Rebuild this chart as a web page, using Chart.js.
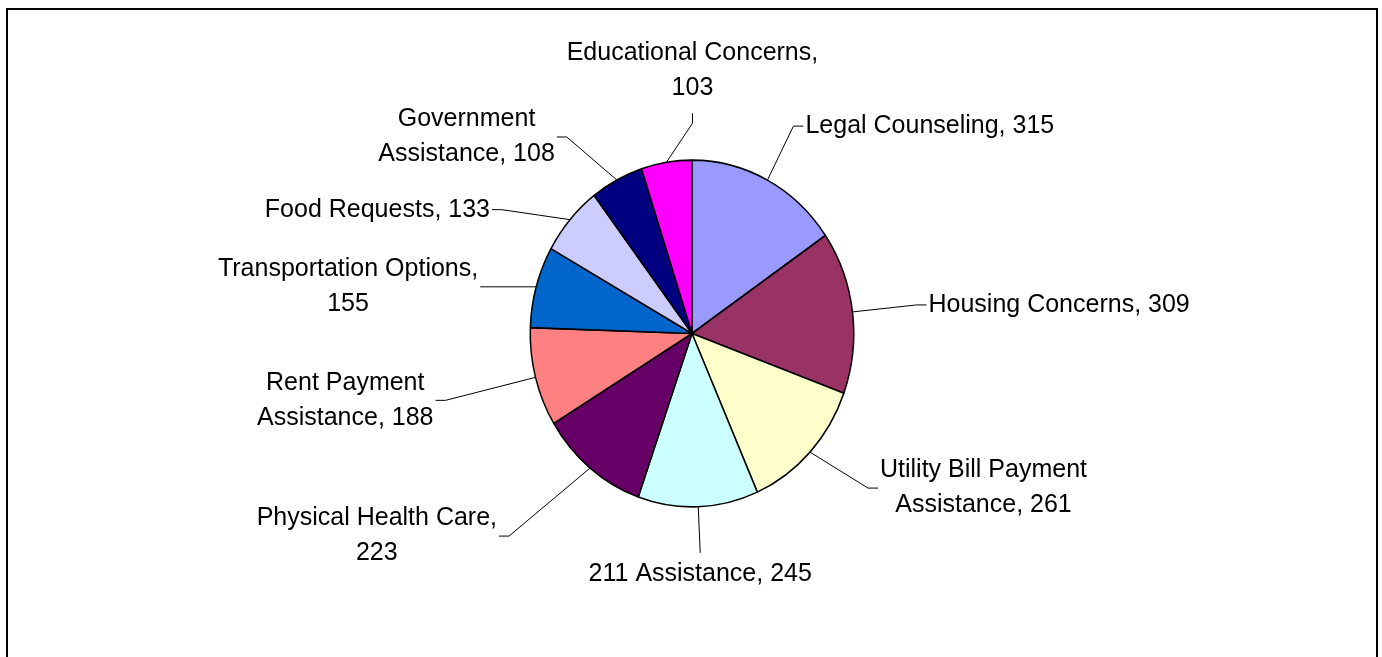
<!DOCTYPE html>
<html>
<head>
<meta charset="utf-8">
<title>Requests by category</title>
<script src="https://cdn.jsdelivr.net/npm/chart.js@4.4.1/dist/chart.umd.min.js"></script>
<style>
    html, body { margin: 0; padding: 0; background: #fff; overflow: hidden; }
    #wrap { width: 1382px; height: 657px; }
</style>
</head>
<body>
<div id="wrap"><canvas id="requestsChart" width="1382" height="657"></canvas></div>
<script>
var categories = ['Legal Counseling', 'Housing Concerns', 'Utility Bill Payment Assistance',
    '211 Assistance', 'Physical Health Care', 'Rent Payment Assistance',
    'Transportation Options', 'Food Requests', 'Government Assistance', 'Educational Concerns'];
var requests = [315, 309, 261, 245, 223, 188, 155, 133, 108, 103];

var sliceColors = ['#9999FF', '#993366', '#FFFFCC', '#CCFFFF', '#660066',
    '#FF8080', '#0066CC', '#CCCCFF', '#000080', '#FF00FF'];
// where each label's leader bends, measured from the middle of its slice's edge (px);
// the original labels were placed by hand, so these are not regular
var labelOffset = [[26, -54], [64, -7], [58, 36], [2, 46], [-81, 68],
    [-90, 23], [-46, 0], [-68, -10], [-50, -43], [26, -39]];

var squash = 1.072;   // the original pie is a bit taller than it is wide
var labelFont = '25px "Liberation Sans", Arial, sans-serif';
var lineHeight = 35;
var wrapWidth = 266;

function wrapText(ctx, text, maxW) {
    var words = text.split(' ');
    var lines = [];
    var cur = '';
    words.forEach(function(w) {
        var test = cur ? cur + ' ' + w : w;
        if (cur && ctx.measureText(test).width > maxW) {
            lines.push(cur);
            cur = w;
        } else {
            cur = test;
        }
    });
    if (cur) lines.push(cur);
    return lines;
}

// black frame round the whole chart (its bottom edge is off the picture)
var frame = {
    id: 'frame',
    beforeDraw: function(chart) {
        var ctx = chart.ctx;
        ctx.save();
        ctx.fillStyle = '#fff';
        ctx.fillRect(0, 0, chart.width, chart.height);
        ctx.strokeStyle = '#000';
        ctx.lineWidth = 2;
        ctx.strokeRect(7, 9, chart.width - 12, chart.height + 20);
        ctx.restore();
    }
};

// stretch the pie a little vertically
var ovalPie = {
    id: 'ovalPie',
    beforeDatasetsDraw: function(chart) {
        var arc = chart.getDatasetMeta(0).data[0];
        var ctx = chart.ctx;
        ctx.save();
        ctx.translate(arc.x, arc.y);
        ctx.scale(1, squash);
        ctx.translate(-arc.x, -arc.y);
    },
    afterDatasetsDraw: function(chart) {
        chart.ctx.restore();
    }
};

// category + value labels outside the pie, with leader lines
var outLabels = {
    id: 'outLabels',
    afterDraw: function(chart) {
        var ctx = chart.ctx;
        var arcs = chart.getDatasetMeta(0).data;
        ctx.save();
        ctx.font = labelFont;
        ctx.fillStyle = '#000';
        ctx.strokeStyle = '#000';
        ctx.lineWidth = 1;
        ctx.textAlign = 'center';
        ctx.textBaseline = 'middle';
        arcs.forEach(function(arc, i) {
            var mid = (arc.startAngle + arc.endAngle) / 2;
            var px = arc.x + Math.cos(mid) * arc.outerRadius;
            var py = arc.y + Math.sin(mid) * arc.outerRadius * squash;
            var kx = px + labelOffset[i][0];
            var ky = py + labelOffset[i][1];

            var lines = wrapText(ctx, categories[i] + ', ' + requests[i], wrapWidth);
            var boxW = 0;
            lines.forEach(function(l) { boxW = Math.max(boxW, ctx.measureText(l).width); });
            var n = lines.length;
            var tx = kx, ty = ky, cx, firstY;
            var c = Math.cos(mid);

            if (Math.abs(c) < 0.25) {
                cx = kx;
                if (Math.sin(mid) < 0) {
                    ty = ky - 10;
                    firstY = ty - 25 - (n - 1) * lineHeight;
                } else {
                    firstY = ty + 21;
                }
            } else if (c > 0) {
                tx = kx + 10;
                cx = tx + 2 + boxW / 2;
                firstY = ky - (n - 1) * lineHeight / 2;
            } else {
                tx = kx - 10;
                cx = tx - 2 - boxW / 2;
                firstY = ky - (n - 1) * lineHeight / 2;
            }

            ctx.beginPath();
            ctx.moveTo(px, py);
            ctx.lineTo(kx, ky);
            ctx.lineTo(tx, ty);
            ctx.stroke();

            lines.forEach(function(l, j) {
                ctx.fillText(l, cx, firstY + j * lineHeight);
            });
        });
        ctx.restore();
    }
};

var ctx = document.getElementById('requestsChart').getContext('2d');
var chart = new Chart(ctx, {
    type: 'pie',
    data: {
        labels: categories,
        datasets: [{
            data: requests,
            backgroundColor: sliceColors,
            borderColor: '#000',
            borderWidth: 1.5,
            hoverOffset: 0
        }]
    },
    options: {
        responsive: false,
        animation: false,
        layout: {
            padding: { left: 200, right: 198, top: 171, bottom: 161 }
        },
        plugins: {
            legend: { display: false },
            tooltip: { enabled: false }
        }
    },
    plugins: [frame, ovalPie, outLabels]
});
</script>
</body>
</html>
